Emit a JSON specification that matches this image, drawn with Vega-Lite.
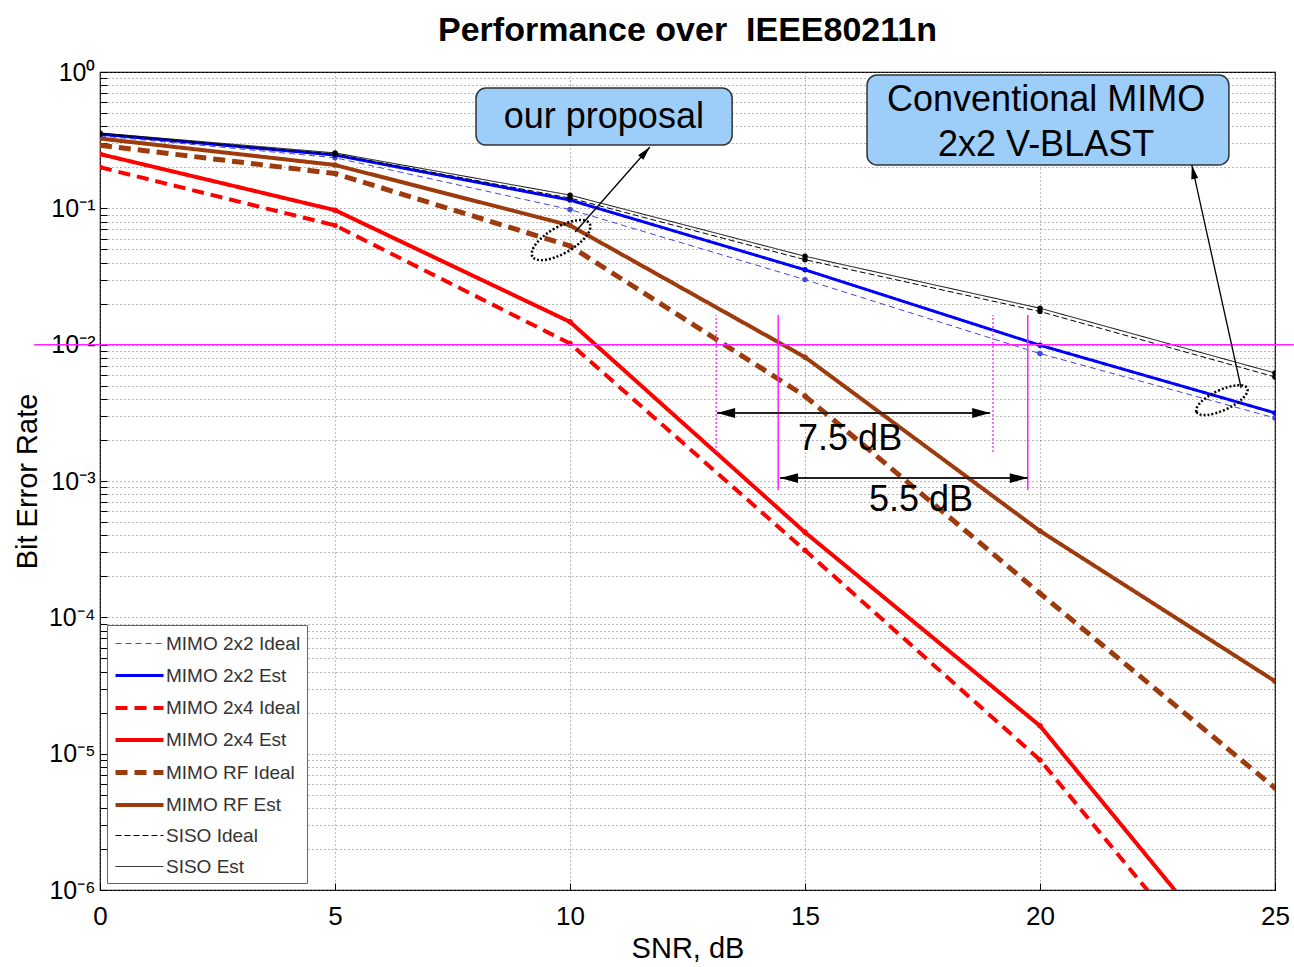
{
  "$schema": "https://vega.github.io/schema/vega-lite/v6.json",
  "autosize": {"type": "none"},
  "width": 1175,
  "height": 818,
  "padding": {"left": 100, "top": 72, "right": 19, "bottom": 77},
  "background": "white",
  "title": {
    "text": "Performance over \u00a0IEEE80211n",
    "font": "Liberation Sans",
    "fontSize": 34,
    "fontWeight": "bold",
    "color": "#000",
    "anchor": "middle",
    "offset": 12
  },
  "datasets": {
    "curves": [
      {"snr": 0, "ber": 0.2, "series": "MIMO 2x4 Ideal"},
      {"snr": 5, "ber": 0.075, "series": "MIMO 2x4 Ideal"},
      {"snr": 10, "ber": 0.0102, "series": "MIMO 2x4 Ideal"},
      {"snr": 15, "ber": 0.00031, "series": "MIMO 2x4 Ideal"},
      {"snr": 20, "ber": 0.000009, "series": "MIMO 2x4 Ideal"},
      {"snr": 25, "ber": 0.000000073, "series": "MIMO 2x4 Ideal"},
      {"snr": 0, "ber": 0.25, "series": "MIMO 2x4 Est"},
      {"snr": 5, "ber": 0.097, "series": "MIMO 2x4 Est"},
      {"snr": 10, "ber": 0.0147, "series": "MIMO 2x4 Est"},
      {"snr": 15, "ber": 0.00042, "series": "MIMO 2x4 Est"},
      {"snr": 20, "ber": 0.000016, "series": "MIMO 2x4 Est"},
      {"snr": 25, "ber": 0.000000127, "series": "MIMO 2x4 Est"},
      {"snr": 0, "ber": 0.29, "series": "MIMO RF Ideal"},
      {"snr": 5, "ber": 0.18, "series": "MIMO RF Ideal"},
      {"snr": 10, "ber": 0.053, "series": "MIMO RF Ideal"},
      {"snr": 15, "ber": 0.0042, "series": "MIMO RF Ideal"},
      {"snr": 20, "ber": 0.00015, "series": "MIMO RF Ideal"},
      {"snr": 25, "ber": 0.0000056, "series": "MIMO RF Ideal"},
      {"snr": 0, "ber": 0.325, "series": "MIMO RF Est"},
      {"snr": 5, "ber": 0.208, "series": "MIMO RF Est"},
      {"snr": 10, "ber": 0.075, "series": "MIMO RF Est"},
      {"snr": 15, "ber": 0.0081, "series": "MIMO RF Est"},
      {"snr": 20, "ber": 0.00043, "series": "MIMO RF Est"},
      {"snr": 25, "ber": 0.000034, "series": "MIMO RF Est"},
      {"snr": 0, "ber": 0.34, "series": "MIMO 2x2 Ideal"},
      {"snr": 5, "ber": 0.235, "series": "MIMO 2x2 Ideal"},
      {"snr": 10, "ber": 0.098, "series": "MIMO 2x2 Ideal"},
      {"snr": 15, "ber": 0.03, "series": "MIMO 2x2 Ideal"},
      {"snr": 20, "ber": 0.0086, "series": "MIMO 2x2 Ideal"},
      {"snr": 25, "ber": 0.0029, "series": "MIMO 2x2 Ideal"},
      {"snr": 0, "ber": 0.35, "series": "MIMO 2x2 Est"},
      {"snr": 5, "ber": 0.246, "series": "MIMO 2x2 Est"},
      {"snr": 10, "ber": 0.115, "series": "MIMO 2x2 Est"},
      {"snr": 15, "ber": 0.0354, "series": "MIMO 2x2 Est"},
      {"snr": 20, "ber": 0.0099, "series": "MIMO 2x2 Est"},
      {"snr": 25, "ber": 0.00316, "series": "MIMO 2x2 Est"},
      {"snr": 0, "ber": 0.35, "series": "SISO Ideal"},
      {"snr": 5, "ber": 0.25, "series": "SISO Ideal"},
      {"snr": 10, "ber": 0.119, "series": "SISO Ideal"},
      {"snr": 15, "ber": 0.042, "series": "SISO Ideal"},
      {"snr": 20, "ber": 0.0175, "series": "SISO Ideal"},
      {"snr": 25, "ber": 0.0058, "series": "SISO Ideal"},
      {"snr": 0, "ber": 0.357, "series": "SISO Est"},
      {"snr": 5, "ber": 0.255, "series": "SISO Est"},
      {"snr": 10, "ber": 0.125, "series": "SISO Est"},
      {"snr": 15, "ber": 0.0445, "series": "SISO Est"},
      {"snr": 20, "ber": 0.0185, "series": "SISO Est"},
      {"snr": 25, "ber": 0.0062, "series": "SISO Est"}
    ],
    "target": [{"snrFrom": -1.4, "snrTo": 25.4, "ber": 0.01}],
    "crossings": [
      {"snr": 13.11, "lo": 0.00163, "hi": 0.0165, "curve": "Ideal"},
      {"snr": 19.0, "lo": 0.00163, "hi": 0.0165, "curve": "Ideal"},
      {"snr": 14.43, "lo": 0.00086, "hi": 0.0165, "curve": "Est"},
      {"snr": 19.74, "lo": 0.00086, "hi": 0.0165, "curve": "Est"}
    ],
    "gains": [
      {"snrFrom": 13.13, "snrTo": 18.94, "ber": 0.00315, "gain": "7.5 dB", "labelSnr": 15.96, "labelBer": 0.00203},
      {"snrFrom": 14.47, "snrTo": 19.74, "ber": 0.00105, "gain": "5.5 dB", "labelSnr": 17.47, "labelBer": 0.000724}
    ],
    "callouts": [
      {"name": "proposal", "text": "our proposal", "x1": 8.0, "x2": 13.45, "y1": 0.763, "y2": 0.291, "tx": 10.72, "ty": 0.47,
       "fromSnr": 10.11, "fromBer": 0.067, "toSnr": 11.7, "toBer": 0.282, "ringSnr": 9.81, "ringBer": 0.0585},
      {"name": "vblast", "text": "Conventional MIMO\n2x2 V-BLAST", "x1": 16.32, "x2": 24.02, "y1": 0.95, "y2": 0.208, "tx": 20.13, "ty": 0.62,
       "fromSnr": 24.28, "fromBer": 0.00481, "toSnr": 23.23, "toBer": 0.208, "ringSnr": 23.87, "ringBer": 0.00392}
    ]
  },
  "layer": [
    {
      "data": {"name": "curves"},
      "mark": {"type": "line", "clip": true, "point": {"filled": true, "size": 30}},
      "encoding": {
        "x": {
          "field": "snr", "type": "quantitative",
          "scale": {"domain": [0, 25], "nice": false, "zero": false},
          "axis": {
            "title": "SNR, dB",
            "values": [0, 5, 10, 15, 20, 25],
            "grid": true,
            "labelFlush": false,
            "labelFontSize": 26,
            "labelPadding": 20,
            "titleFontSize": 29,
            "titleY": 58,
            "titleBaseline": "middle"
          }
        },
        "y": {
          "field": "ber", "type": "quantitative",
          "scale": {"type": "log", "domain": [0.000001, 1], "nice": false},
          "axis": {
            "title": "Bit Error Rate",
            "values": [
              0.000001, 0.000002, 0.000003, 0.000004, 0.000005, 0.000006, 0.000007, 0.000008, 0.000009,
              0.00001, 0.00002, 0.00003, 0.00004, 0.00005, 0.00006, 0.00007, 0.00008, 0.00009,
              0.0001, 0.0002, 0.0003, 0.0004, 0.0005, 0.0006, 0.0007, 0.0008, 0.0009,
              0.001, 0.002, 0.003, 0.004, 0.005, 0.006, 0.007, 0.008, 0.009,
              0.01, 0.02, 0.03, 0.04, 0.05, 0.06, 0.07, 0.08, 0.09,
              0.1, 0.2, 0.3, 0.4, 0.5, 0.6, 0.7, 0.8, 0.9, 1
            ],
            "labelExpr": "abs(log(datum.value)/LN10 - round(log(datum.value)/LN10)) < 0.000001 ? ['10\u2070','10\u207b\u00b9','10\u207b\u00b2','10\u207b\u00b3','10\u207b\u2074','10\u207b\u2075','10\u207b\u2076'][-round(log(datum.value)/LN10)] : ''",
            "grid": true,
            "labelFlush": false,
            "labelFontSize": 25,
            "labelPadding": 12,
            "titleFontSize": 29,
            "titleX": -73,
            "titleY": 409,
            "titleBaseline": "middle"
          }
        },
        "color": {
          "field": "series", "type": "nominal",
          "scale": {
            "domain": ["MIMO 2x2 Ideal", "MIMO 2x2 Est", "MIMO 2x4 Ideal", "MIMO 2x4 Est", "MIMO RF Ideal", "MIMO RF Est", "SISO Ideal", "SISO Est"],
            "range": ["#4646e0", "#0000ff", "#ff0000", "#ff0000", "#9e3b0c", "#9e3b0c", "#000000", "#000000"]
          },
          "legend": {"title": null}
        },
        "strokeDash": {
          "field": "series", "type": "nominal",
          "scale": {
            "domain": ["MIMO 2x2 Ideal", "MIMO 2x2 Est", "MIMO 2x4 Ideal", "MIMO 2x4 Est", "MIMO RF Ideal", "MIMO RF Est", "SISO Ideal", "SISO Est"],
            "range": [[6, 4], [1, 0], [12, 7], [1, 0], [12, 7], [1, 0], [6, 3], [1, 0]]
          },
          "legend": {"title": null}
        },
        "strokeWidth": {
          "field": "series", "type": "nominal",
          "scale": {
            "type": "ordinal",
            "domain": ["MIMO 2x2 Ideal", "MIMO 2x2 Est", "MIMO 2x4 Ideal", "MIMO 2x4 Est", "MIMO RF Ideal", "MIMO RF Est", "SISO Ideal", "SISO Est"],
            "range": [1, 3, 4, 4, 5, 4, 1, 1]
          },
          "legend": {"title": null}
        }
      }
    },
    {
      "data": {"name": "target"},
      "mark": {"type": "rule", "color": "#ff22ff", "strokeWidth": 1.5, "clip": false},
      "encoding": {
        "x": {"field": "snrFrom", "type": "quantitative"},
        "x2": {"field": "snrTo"},
        "y": {"field": "ber", "type": "quantitative"}
      }
    },
    {
      "data": {"name": "crossings"},
      "transform": [{"filter": "datum.curve === 'Ideal'"}],
      "mark": {"type": "rule", "color": "#ff22ff", "strokeWidth": 1.3, "strokeDash": [2, 2]},
      "encoding": {
        "x": {"field": "snr", "type": "quantitative"},
        "y": {"field": "lo", "type": "quantitative"},
        "y2": {"field": "hi"}
      }
    },
    {
      "data": {"name": "crossings"},
      "transform": [{"filter": "datum.curve === 'Est'"}],
      "mark": {"type": "rule", "color": "#ff22ff", "strokeWidth": 1.5},
      "encoding": {
        "x": {"field": "snr", "type": "quantitative"},
        "y": {"field": "lo", "type": "quantitative"},
        "y2": {"field": "hi"}
      }
    },
    {
      "data": {"name": "gains"},
      "mark": {"type": "rule", "color": "#222", "strokeWidth": 2},
      "encoding": {
        "x": {"field": "snrFrom", "type": "quantitative"},
        "x2": {"field": "snrTo"},
        "y": {"field": "ber", "type": "quantitative"}
      }
    },
    {
      "data": {"name": "gains"},
      "mark": {"type": "point", "shape": "M0,0L2,-0.55L2,0.55Z", "filled": true, "color": "#000", "opacity": 1, "size": 324},
      "encoding": {
        "x": {"field": "snrFrom", "type": "quantitative"},
        "y": {"field": "ber", "type": "quantitative"}
      }
    },
    {
      "data": {"name": "gains"},
      "mark": {"type": "point", "shape": "M0,0L-2,-0.55L-2,0.55Z", "filled": true, "color": "#000", "opacity": 1, "size": 324},
      "encoding": {
        "x": {"field": "snrTo", "type": "quantitative"},
        "y": {"field": "ber", "type": "quantitative"}
      }
    },
    {
      "data": {"name": "gains"},
      "mark": {"type": "text", "font": "Liberation Sans", "fontSize": 36, "color": "#000", "align": "center", "baseline": "middle"},
      "encoding": {
        "x": {"field": "labelSnr", "type": "quantitative"},
        "y": {"field": "labelBer", "type": "quantitative"},
        "text": {"field": "gain"}
      }
    },
    {
      "data": {"name": "callouts"},
      "mark": {"type": "rule", "color": "#000", "strokeWidth": 1.3},
      "encoding": {
        "x": {"field": "fromSnr", "type": "quantitative"},
        "y": {"field": "fromBer", "type": "quantitative"},
        "x2": {"field": "toSnr"},
        "y2": {"field": "toBer"}
      }
    },
    {
      "data": {"name": "callouts"},
      "transform": [{"filter": "datum.name === 'proposal'"}],
      "mark": {"type": "point", "shape": "M0,0L0.5,2L-0.5,2Z", "filled": true, "color": "#000", "opacity": 1, "size": 196, "angle": 41},
      "encoding": {
        "x": {"field": "toSnr", "type": "quantitative"},
        "y": {"field": "toBer", "type": "quantitative"}
      }
    },
    {
      "data": {"name": "callouts"},
      "transform": [{"filter": "datum.name === 'vblast'"}],
      "mark": {"type": "point", "shape": "M0,0L0.5,2L-0.5,2Z", "filled": true, "color": "#000", "opacity": 1, "size": 196, "angle": -12},
      "encoding": {
        "x": {"field": "toSnr", "type": "quantitative"},
        "y": {"field": "toBer", "type": "quantitative"}
      }
    },
    {
      "data": {"name": "callouts"},
      "transform": [{"filter": "datum.name === 'proposal'"}],
      "mark": {"type": "point", "shape": "M-1,0A1,0.4,0,1,1,1,0A1,0.4,0,1,1,-1,0Z", "filled": false, "color": "#000", "opacity": 1, "strokeWidth": 2.5, "strokeDash": [2, 2], "size": 4356, "angle": -30},
      "encoding": {
        "x": {"field": "ringSnr", "type": "quantitative"},
        "y": {"field": "ringBer", "type": "quantitative"}
      }
    },
    {
      "data": {"name": "callouts"},
      "transform": [{"filter": "datum.name === 'vblast'"}],
      "mark": {"type": "point", "shape": "M-1,0A1,0.36,0,1,1,1,0A1,0.36,0,1,1,-1,0Z", "filled": false, "color": "#000", "opacity": 1, "strokeWidth": 2.5, "strokeDash": [2, 2], "size": 3136, "angle": -25},
      "encoding": {
        "x": {"field": "ringSnr", "type": "quantitative"},
        "y": {"field": "ringBer", "type": "quantitative"}
      }
    },
    {
      "data": {"name": "callouts"},
      "mark": {"type": "rect", "fill": "#9dcdf9", "stroke": "#333", "strokeWidth": 1.5, "cornerRadius": 10},
      "encoding": {
        "x": {"field": "x1", "type": "quantitative"},
        "x2": {"field": "x2"},
        "y": {"field": "y1", "type": "quantitative"},
        "y2": {"field": "y2"}
      }
    },
    {
      "data": {"name": "callouts"},
      "mark": {"type": "text", "font": "Liberation Sans", "fontSize": 36, "color": "#000", "align": "center", "baseline": "middle", "lineBreak": "\n", "lineHeight": 45},
      "encoding": {
        "x": {"field": "tx", "type": "quantitative"},
        "y": {"field": "ty", "type": "quantitative"},
        "text": {"field": "text"}
      }
    }
  ],
  "config": {
    "font": "Liberation Sans",
    "view": {"stroke": "#000", "strokeWidth": 1.2},
    "axis": {
      "domain": false,
      "ticks": true,
      "tickSize": -7,
      "tickColor": "#000",
      "labelColor": "#000",
      "titleColor": "#000",
      "titleFontWeight": "normal",
      "labelFont": "Liberation Sans",
      "titleFont": "Liberation Sans",
      "gridColor": "#666",
      "gridDash": [1, 3],
      "gridWidth": 1,
      "gridOpacity": 0.9
    },
    "legend": {
      "orient": "none",
      "legendX": 7,
      "legendY": 553,
      "direction": "vertical",
      "fillColor": "#ffffff",
      "strokeColor": "#666",
      "padding": 6,
      "symbolType": "M-1,0H3",
      "symbolSize": 576,
      "labelFontSize": 19,
      "labelColor": "#333",
      "labelFont": "Liberation Sans",
      "rowPadding": 8,
      "labelOffset": 24
    }
  }
}
